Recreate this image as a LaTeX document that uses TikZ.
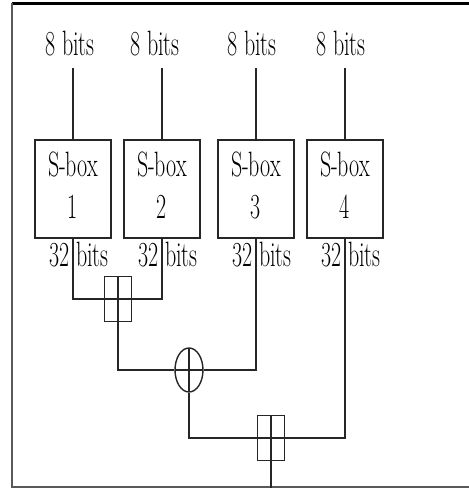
\documentclass[tikz,border=0pt]{standalone}
\usepackage{graphicx}
\usetikzlibrary{shapes.geometric, positioning}

\newcommand{\tallt}[1]{\scalebox{1}[1.6]{#1}}

\begin{document}
\begin{tikzpicture}[x=1pt, y=-1pt,
  wire/.style={line width=1.7pt, black!85},
  sbox/.style={draw, line width=1.7pt, black!85, text=black, minimum width=76pt, minimum height=98pt, inner sep=0pt, font=\fontsize{22}{26}\selectfont},
  bitlabel/.style={inner sep=0pt, font=\fontsize{22}{26}\selectfont},
  addbox/.style={draw, line width=1.4pt, black!85, minimum width=27pt, minimum height=45pt, inner sep=0pt,
    path picture={\draw[line width=1.4pt, black!85] (path picture bounding box.north) -- (path picture bounding box.south)
      (path picture bounding box.west) -- (path picture bounding box.east);}},
  xorop/.style={draw, ellipse, line width=1.4pt, black!85, minimum width=28pt, minimum height=44pt, inner sep=0pt,
    path picture={\draw[line width=1.4pt, black!85] (path picture bounding box.north) -- (path picture bounding box.south)
      (path picture bounding box.west) -- (path picture bounding box.east);}},
]
\useasboundingbox (0,0) rectangle (469,488);

% frame
\draw[line width=3pt] (12,3) -- (469,3);
\draw[line width=1.2pt, gray!70!black] (12,3) -- (12,487) -- (469,487);

% inputs
\node[bitlabel, anchor=base] (in1) at (70,55) {\tallt{8 bits}};
\node[bitlabel, anchor=base] (in2) at (155,55) {\tallt{8 bits}};
\node[bitlabel, anchor=base] (in3) at (252,55) {\tallt{8 bits}};
\node[bitlabel, anchor=base] (in4) at (341,55) {\tallt{8 bits}};

% S-boxes
\node[sbox] (sb1) at (73,189) {\tallt{\begin{tabular}{@{}c@{}}S-box\\1\end{tabular}}};
\node[sbox] (sb2) at (162,189) {\tallt{\begin{tabular}{@{}c@{}}S-box\\2\end{tabular}}};
\node[sbox] (sb3) at (256,189) {\tallt{\begin{tabular}{@{}c@{}}S-box\\3\end{tabular}}};
\node[sbox] (sb4) at (345,189) {\tallt{\begin{tabular}{@{}c@{}}S-box\\4\end{tabular}}};

\foreach \k in {1,...,4} {
  \draw[wire] (sb\k.north) -- ([yshift=-13pt]in\k.base -| sb\k.north);
  \node[bitlabel, anchor=base east] (o\k a) at ([xshift=-3pt, yshift=-28pt]sb\k.south) {\tallt{32}};
  \node[bitlabel, anchor=base west] (o\k b) at ([xshift=3pt, yshift=-28pt]sb\k.south) {\tallt{bits}};
}

% combining
\node[addbox] (addA) at (118,299) {};
\node[xorop] (xorB) at (189,370) {};
\node[addbox] (addC) at (271,438) {};
\coordinate (out) at (271,488);

\draw[wire] (sb1.south) |- (addA.west);
\draw[wire] (sb2.south) |- (addA.east);
\draw[wire] (addA.south) |- (xorB.west);
\draw[wire] (sb3.south) |- (xorB.east);
\draw[wire] (xorB.south) |- (addC.west);
\draw[wire] (sb4.south) |- (addC.east);
\draw[wire] (addC.south) -- (out);

\end{tikzpicture}
\end{document}
